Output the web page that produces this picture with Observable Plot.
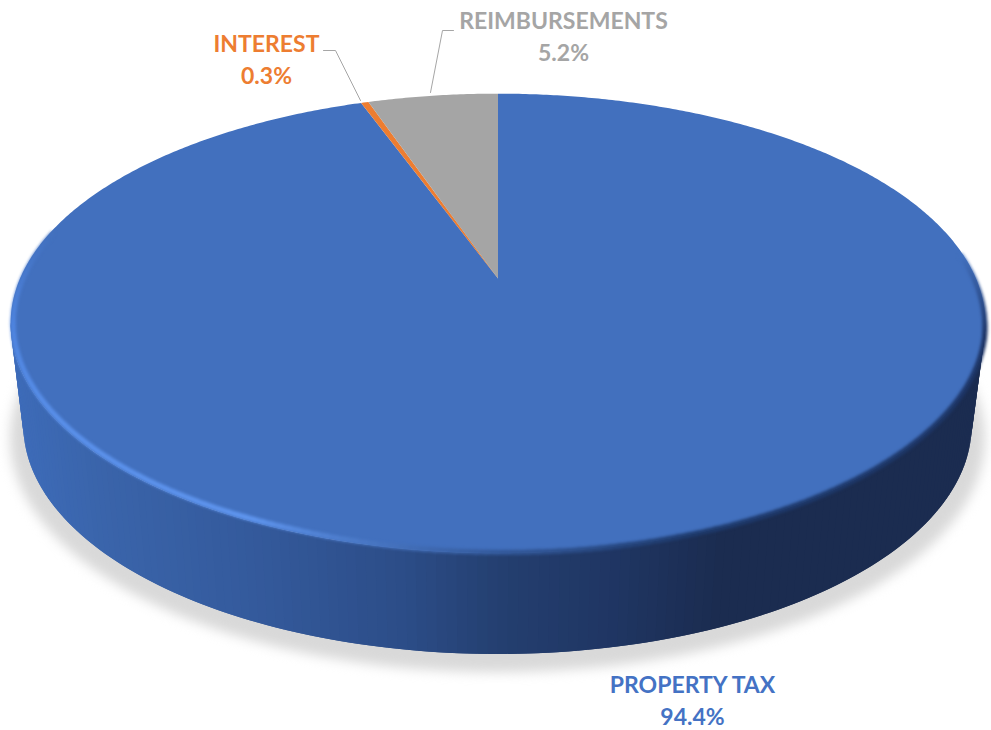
<!DOCTYPE html>
<html><head><meta charset="utf-8">
<style>html,body{margin:0;padding:0;background:#fff}</style>
<script src="https://cdn.jsdelivr.net/npm/d3@7"></script>
<script src="https://cdn.jsdelivr.net/npm/@observablehq/plot@0.6"></script>
</head><body><script>
const categories = ["PROPERTY TAX", "INTEREST", "REIMBURSEMENTS"];
const shares = [94.4, 0.3, 5.2];
const colors = ["#4270BE", "#ED7D31", "#A5A5A5"];
const textColors = ["#4472C4", "#ED7D31", "#A5A5A5"];
const labelX = [692, 266, 563];
const labelY = [698.5, 57, 34];
const leaderInterest = [[323, 50], [335, 50], [360, 100]];
const leaderReimb = [[453, 30], [442, 30], [430, 92]];

// perspective disc: [centre x, centre y, A, B, k]
const topDisc = [497.5, 278, 478, 221, 0.1956];
const baseDisc = [497, 380, 465, 220, 0.1956];
const shadowDisc = [497, 392, 478, 225, 0.1956];
const project = (disc, deg, r = 1) => {
  const [cx, cy, A, B, k] = disc, t = deg * Math.PI / 180;
  const u = r * Math.sin(t), v = -r * Math.cos(t), w = 1 - k * v;
  return [cx + A * u / w, cy + B * v / w];
};

// slices clockwise from 12 o'clock
const total = d3.sum(shares);
let acc = 0;
const slicePts = [];
shares.forEach((s, i) => {
  const a0 = acc / total * 360, a1 = (acc + s) / total * 360;
  acc += s;
  const c = project(topDisc, 0, 0);
  slicePts.push({z: categories[i], c: colors[i], x: c[0], y: c[1]});
  const n = Math.max(2, Math.ceil((a1 - a0) * 2));
  for (let j = 0; j <= n; ++j) {
    const p = project(topDisc, a0 + (a1 - a0) * j / n);
    slicePts.push({z: categories[i], c: colors[i], x: p[0], y: p[1]});
  }
});

// wall shading: overlapping strips, painted in order so no seams show
const wallColor = d3.scaleLinear()
  .domain([15, 100, 250, 400, 500, 620, 720, 985])
  .range(["#3D6BB8", "#3A64AA", "#345A9C", "#2C4D88", "#243F70", "#1F3562", "#1B2C50", "#1B2C50"])
  .interpolate(d3.interpolateRgb);
const wallPts = [];
for (let a = 101; a < 259; a += 1) {
  const b = Math.min(a + 2, 259);
  const q = [project(topDisc, a), project(topDisc, b), project(baseDisc, b), project(baseDisc, a)];
  const c = wallColor((project(topDisc, a)[0] + project(topDisc, a + 1)[0]) / 2);
  q.forEach(p => wallPts.push({z: a, c, x: p[0], y: p[1]}));
}

const shadowPts = d3.range(0, 361, 2).map(a => {
  const p = project(shadowDisc, a);
  return {x: p[0], y: p[1]};
});

// rim bevel
const rimAngle = [84, 104, 160, 180, 205, 235, 258, 282];
const rimHue = ["#4270BE", "#1E3566", "#1E3A6C", "#33599A", "#5F95EE", "#5A90EA", "#4F85E0", "#4270BE"];
const rimColor = d3.scaleLinear().domain(rimAngle).range(rimHue).interpolate(d3.interpolateRgb);
const rimInset = d3.scaleLinear().domain([84, 104, 170, 200, 258, 282]).range([0.994, 1, 1, 0.992, 0.995, 0.993]);
const rimPts = [];
for (let a = 84; a < 282; a += 1) {
  [a, a + 1.2].forEach(b => {
    const p = project(topDisc, b, rimInset(a));
    rimPts.push({z: a, c: rimColor(a), x: p[0], y: p[1]});
  });
}

const labels = categories.map((name, i) => ({
  text: `${name}\n${shares[i].toFixed(1)}%`, x: labelX[i], y: labelY[i], c: textColors[i]
}));
const font = {fontFamily: "Lato, sans-serif", fontWeight: 700, fontSize: 23, lineHeight: 1.38};

const chart = Plot.plot({
  width: 991, height: 730, margin: 0,
  x: {domain: [0, 991], range: [0, 991], axis: null},
  y: {domain: [0, 730], range: [0, 730], axis: null},
  color: {type: "identity"},
  style: {background: "#fff"},
  marks: [
    Plot.line(shadowPts, {x: "x", y: "y", fill: "#d9d9d9", stroke: "none", imageFilter: "blur(6px)"}),
    Plot.line(wallPts, {x: "x", y: "y", z: "z", fill: "c", stroke: "none"}),
    Plot.line(slicePts, {x: "x", y: "y", z: "z", fill: "c", stroke: "none"}),
    Plot.line(rimPts, {x: "x", y: "y", z: "z", stroke: "c", strokeWidth: 5, imageFilter: "blur(1.6px)"}),
    Plot.line(leaderInterest, {x: d => d[0], y: d => d[1], stroke: "#A6A6A6", strokeWidth: 1}),
    Plot.line(leaderReimb, {x: d => d[0], y: d => d[1], stroke: "#A6A6A6", strokeWidth: 1}),
    Plot.text(labels, {x: "x", y: "y", text: "text", fill: "c", textAnchor: "middle", lineAnchor: "middle", ...font})
  ]
});
document.body.appendChild(chart);
</script></body></html>
